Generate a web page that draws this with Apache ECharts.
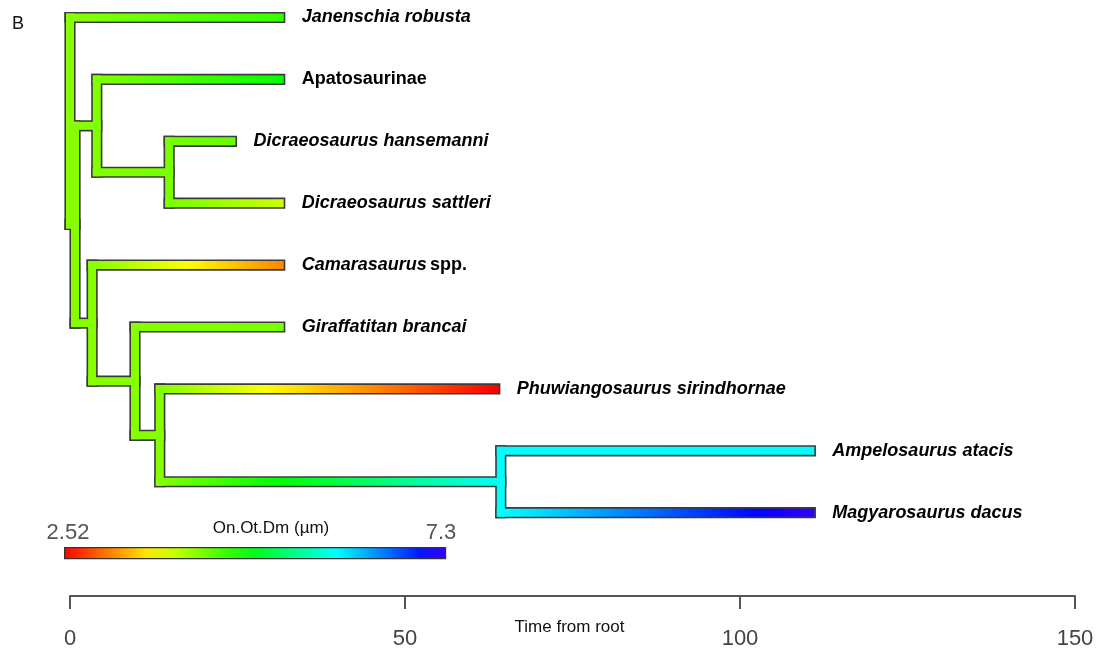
<!DOCTYPE html>
<html>
<head>
<meta charset="utf-8">
<title>contMap</title>
<script src="https://cdn.jsdelivr.net/npm/echarts@6/dist/echarts.min.js"></script>
<style>
  html, body { margin: 0; padding: 0; background: #fff; }
  #main { width: 1107px; height: 653px; }
</style>
</head>
<body>
<div id="main"></div>
<script>
/*************** 数据 ***************/
// 末端类群，自上而下
var tipNames = ['Janenschia robusta', 'Apatosaurinae', 'Dicraeosaurus hansemanni', 'Dicraeosaurus sattleri',
    'Camarasaurus spp.', 'Giraffatitan brancai', 'Phuwiangosaurus sirindhornae', 'Ampelosaurus atacis', 'Magyarosaurus dacus'];
var tipItalic = [true, false, true, true, true, true, true, true, true];
var tipTimes = [31.3, 31.3, 24.1, 31.3, 31.3, 31.3, 63.4, 110.5, 110.5];
var tipValues = [4.55, 4.76, 4.34, 3.89, 3.13, 4.25, 2.52, 5.95, 7.3];

// 内部节点
var nodeIds = ['root', 'n1', 'n2', 'n3', 'n4', 'n5', 'n6', 'n7'];
var nodeTimes = [0, 0.75, 4.0, 14.8, 3.3, 9.7, 13.4, 64.3];
var nodeValues = [4.19, 4.19, 4.22, 4.26, 4.2, 4.2, 4.2, 5.92];

// 枝：父 -> 子
var edgeFrom = ['root', 'root', 'n1', 'n1', 'n2', 'n2', 'n3', 'n3', 'n4', 'n4', 'n5', 'n5', 'n6', 'n6', 'n7', 'n7'];
var edgeTo = ['t0', 'n1', 'n2', 'n4', 't1', 'n3', 't2', 't3', 't4', 'n5', 't5', 'n6', 't6', 'n7', 't7', 't8'];

var timeTicks = [0, 50, 100, 150];
var colorMin = 2.52, colorMax = 7.3;
var traitName = 'On.Ot.Dm (\u00b5m)';

/*************** 颜色：rainbow(start=0, end=0.7) ***************/
function valueColor(v) {
    var f = (v - colorMin) / (colorMax - colorMin);
    f = Math.max(0, Math.min(1, f));
    var h = f * 252 / 60;
    var i = Math.floor(h) % 6, r = h - Math.floor(h);
    var q = 1 - r;
    var rgb = [[1, r, 0], [q, 1, 0], [0, 1, r], [0, q, 1], [r, 0, 1], [1, 0, q]][i];
    return 'rgb(' + rgb.map(function (c) { return Math.round(c * 255); }).join(',') + ')';
}

/*************** 树的布局 ***************/
var info = {};
tipNames.forEach(function (n, i) {
    info['t' + i] = { t: tipTimes[i], v: tipValues[i], y: i, tip: i, kids: [] };
});
nodeIds.forEach(function (id, i) {
    info[id] = { t: nodeTimes[i], v: nodeValues[i], y: null, tip: -1, kids: [] };
});
edgeFrom.forEach(function (p, i) { info[p].kids.push(edgeTo[i]); });

function nodeY(id) {
    var nd = info[id];
    if (nd.y === null) {
        var ys = nd.kids.map(nodeY);
        nd.y = (Math.min.apply(null, ys) + Math.max.apply(null, ys)) / 2;
    }
    return nd.y;
}
nodeY('root');

var segments = [];
nodeIds.forEach(function (id) {
    var nd = info[id];
    var ys = nd.kids.map(function (k) { return info[k].y; });
    segments.push({ kind: 'v', t: nd.t, y0: Math.min.apply(null, ys), y1: Math.max.apply(null, ys), v: nd.v });
});
edgeFrom.forEach(function (p, i) {
    var a = info[p], b = info[edgeTo[i]];
    segments.push({ kind: 'h', t0: a.t, t1: b.t, y: b.y, v0: a.v, v1: b.v, tip: b.tip });
});

var HW = 4;      // 半宽（彩色）
var OW = 1.6;    // 描边

function segRect(s, api, pad) {
    var hw = HW + pad;
    if (s.kind === 'v') {
        var a = api.coord([s.t, s.y0]), b = api.coord([s.t, s.y1]);
        return { x: a[0] - hw, y: a[1] - hw, width: hw * 2, height: b[1] - a[1] + hw * 2 };
    }
    var p = api.coord([s.t0, s.y]), c = api.coord([s.t1, s.y]);
    return { x: p[0] - hw, y: p[1] - hw, width: c[0] - p[0] + hw * 2, height: hw * 2 };
}

function renderOutline(params, api) {
    var s = segments[params.dataIndex];
    return { type: 'rect', shape: segRect(s, api, OW), style: { fill: '#3b3b3b' } };
}

function renderFill(params, api) {
    var s = segments[params.dataIndex];
    var shape = segRect(s, api, 0);
    if (s.kind === 'v') {
        return { type: 'rect', shape: shape, style: { fill: valueColor(s.v) } };
    }
    var len = shape.width - HW * 2;
    var stops = [];
    var n = 16;
    for (var k = 0; k <= n; k++) {
        var v = s.v0 + (s.v1 - s.v0) * k / n;
        stops.push({ offset: (HW + len * k / n) / shape.width, color: valueColor(v) });
    }
    var rect = {
        type: 'rect', shape: shape,
        style: { fill: new echarts.graphic.LinearGradient(0, 0, 1, 0, stops) }
    };
    if (s.tip < 0) return rect;

    var name = tipNames[s.tip];
    var txt;
    if (/ spp\.$/.test(name)) {
        txt = '{i|' + name.replace(/ spp\.$/, '') + '} {n|spp.}';
    } else {
        txt = (tipItalic[s.tip] ? '{i|' : '{n|') + name + '}';
    }
    var base = { fontFamily: 'Liberation Sans, Arial, sans-serif', fontSize: 18, fontWeight: 'bold', fill: '#000' };
    return {
        type: 'group',
        children: [rect, {
            type: 'text',
            style: {
                x: shape.x + shape.width + 18, y: shape.y + HW,
                text: txt, verticalAlign: 'middle', align: 'left',
                rich: {
                    i: Object.assign({ fontStyle: 'italic' }, base),
                    n: Object.assign({ fontStyle: 'normal' }, base)
                }
            }
        }]
    };
}

/*************** 色带图例 ***************/
var barStops = [];
for (var k = 0; k <= 14; k++) {
    barStops.push({ offset: k / 14, color: valueColor(colorMin + (colorMax - colorMin) * k / 14) });
}

var myChart = echarts.init(document.getElementById('main'));
var option = {
    backgroundColor: '#fff',
    animation: false,
    grid: { left: 70, right: 32, top: 17.5, bottom: 57, outerBoundsMode: 'none' },
    xAxis: {
        type: 'value',
        min: timeTicks[0],
        max: timeTicks[timeTicks.length - 1],
        interval: timeTicks[1] - timeTicks[0],
        position: 'bottom',
        axisLine: { show: true, onZero: false, lineStyle: { color: '#555', width: 2 } },
        axisTick: { show: true, length: 13, lineStyle: { color: '#555', width: 2 } },
        axisLabel: { fontSize: 22, color: '#444', margin: 32, fontFamily: 'Liberation Sans, Arial, sans-serif' },
        splitLine: { show: false },
        name: 'Time from root',
        nameLocation: 'middle',
        nameGap: 23,
        nameMoveOverlap: false,
        nameTextStyle: { fontSize: 17, color: '#111', fontFamily: 'Liberation Sans, Arial, sans-serif', padding: [0, 0, 0, -6] }
    },
    yAxis: { type: 'value', min: 0, max: 9.346, inverse: true, show: false },
    graphic: [
        { type: 'text', left: 12, top: 15, style: { text: 'B', fontSize: 18, fill: '#111', fontFamily: 'Liberation Sans, Arial, sans-serif' } },
        {
            type: 'rect', left: 64, top: 547,
            shape: { width: 381, height: 11 },
            style: { fill: new echarts.graphic.LinearGradient(0, 0, 1, 0, barStops), stroke: '#333', lineWidth: 1.2 }
        },
        { type: 'text', x: 68, y: 533, style: { text: String(colorMin), fontSize: 22, fill: '#555', align: 'center', verticalAlign: 'middle', fontFamily: 'Liberation Sans, Arial, sans-serif' } },
        { type: 'text', x: 441, y: 533, style: { text: String(colorMax), fontSize: 22, fill: '#555', align: 'center', verticalAlign: 'middle', fontFamily: 'Liberation Sans, Arial, sans-serif' } },
        { type: 'text', x: 271, y: 528, style: { text: traitName, fontSize: 17, fill: '#111', align: 'center', verticalAlign: 'middle', fontFamily: 'Liberation Sans, Arial, sans-serif' } }
    ],
    series: [{
        type: 'custom',
        name: 'outline',
        z: 2,
        clip: false,
        renderItem: renderOutline,
        data: segments.map(function (s, i) { return [i]; })
    }, {
        type: 'custom',
        name: 'branches',
        z: 3,
        clip: false,
        renderItem: renderFill,
        data: segments.map(function (s, i) { return [i]; })
    }]
};
myChart.setOption(option);
</script>
</body>
</html>
